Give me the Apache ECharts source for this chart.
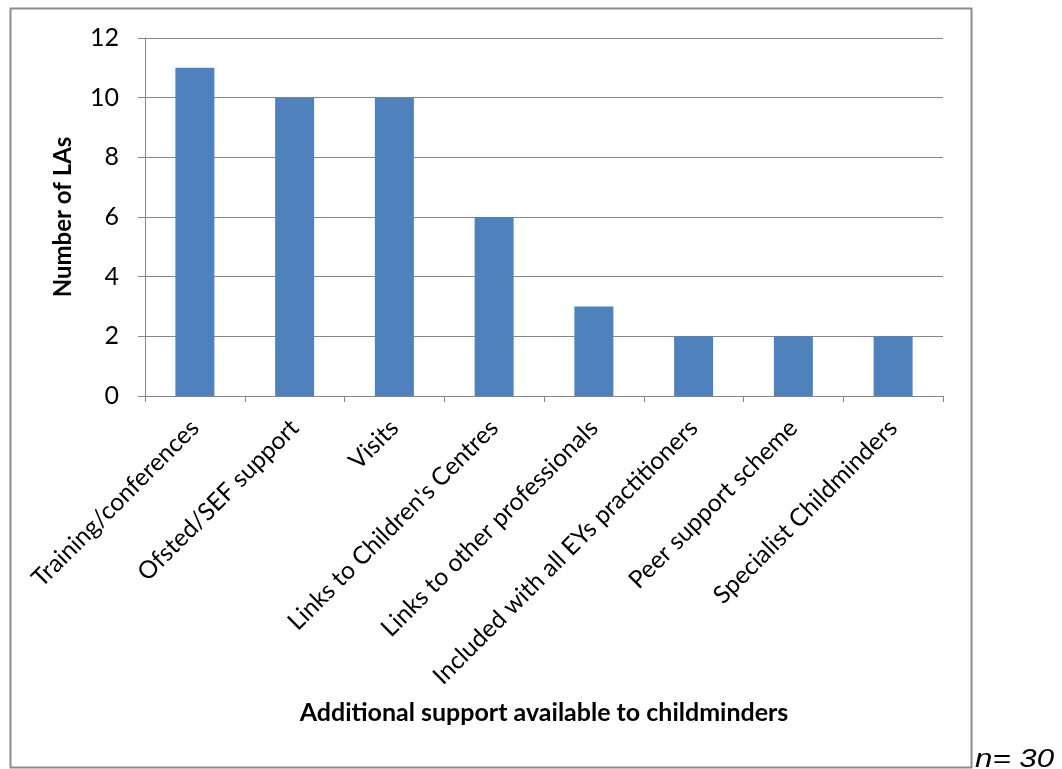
<!DOCTYPE html>
<html>
<head>
<meta charset="utf-8">
<script src="https://cdn.jsdelivr.net/npm/echarts@6/dist/echarts.min.js"></script>
<style>
  html, body { margin: 0; padding: 0; background: #fff; }
  #chart { width: 1062px; height: 769px; }
</style>
</head>
<body>
<div id="chart"></div>
<script>
// Support types offered to childminders and the number of LAs offering each
const categories = [
  'Training/conferences',
  'Ofsted/SEF support',
  'Visits',
  "Links to Children's Centres",
  'Links to other professionals',
  'Included with all EYs practitioners',
  'Peer support scheme',
  'Specialist Childminders'
];
const counts = [11, 10, 10, 6, 3, 2, 2, 2];
const yTicks = { min: 0, max: 12, interval: 2 };

const FONT = 'Lato, "Open Sans", sans-serif';
const chart = echarts.init(document.getElementById('chart'), null, { renderer: 'canvas' });

chart.setOption({
  animation: false,
  backgroundColor: '#ffffff',
  grid: { left: 145, right: 119, top: 38, bottom: 373, containLabel: false },
  xAxis: {
    type: 'category',
    data: categories,
    boundaryGap: true,
    name: 'Additional support available to childminders',
    nameLocation: 'middle',
    nameGap: 304,
    nameTextStyle: { fontFamily: FONT, fontSize: 25, fontWeight: 'bold', color: '#000' },
    axisLine: { lineStyle: { color: '#868686', width: 1 } },
    axisTick: { show: true, alignWithLabel: false, length: 6, lineStyle: { color: '#868686' } },
    axisLabel: { rotate: 45, interval: 0, margin: 28, fontFamily: FONT, fontSize: 24.5, color: '#000' }
  },
  yAxis: {
    type: 'value',
    min: yTicks.min,
    max: yTicks.max,
    interval: yTicks.interval,
    name: 'Number of LAs',
    nameLocation: 'middle',
    nameGap: 70,
    nameTextStyle: { fontFamily: FONT, fontSize: 24, fontWeight: 'bold', color: '#000' },
    axisLine: { show: true, lineStyle: { color: '#868686', width: 1 } },
    axisTick: { show: true, length: 7, lineStyle: { color: '#868686' } },
    axisLabel: { margin: 26, fontFamily: FONT, fontSize: 25, color: '#000' },
    splitLine: { show: true, lineStyle: { color: '#868686', width: 1 } }
  },
  series: [{
    type: 'bar',
    data: counts,
    barWidth: 39,
    itemStyle: { color: '#4F81BD' }
  }],
  graphic: [
    {
      type: 'rect',
      shape: { x: 10.5, y: 8.5, width: 961, height: 759 },
      style: { fill: 'none', stroke: '#8c8c8c', lineWidth: 2 },
      z: -1
    },
    {
      type: 'text',
      x: 975,
      y: 773,
      scaleX: 1.25,
      style: {
        text: 'n= 30',
        font: 'italic 25px "Liberation Sans", Arial, sans-serif',
        fill: '#000',
        verticalAlign: 'bottom'
      }
    }
  ]
});
</script>
</body>
</html>
